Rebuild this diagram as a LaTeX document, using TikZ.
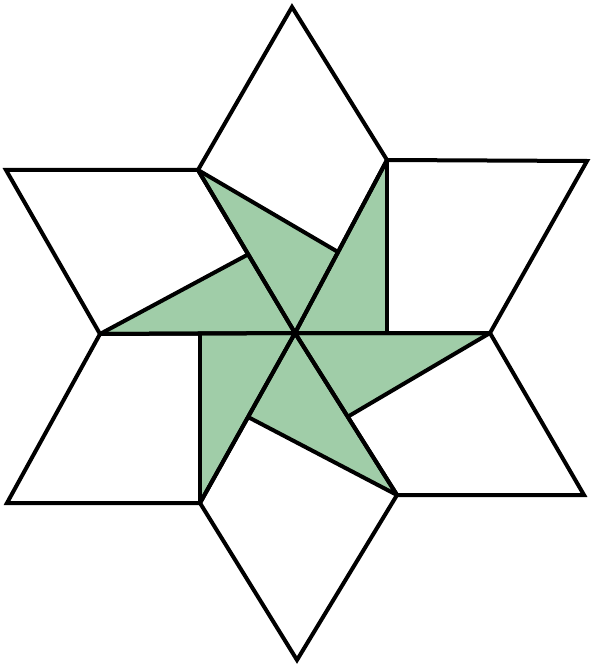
\documentclass[tikz,border=0pt]{standalone}
\usepackage[x11names]{xcolor}
\usepackage{tikz}
\definecolor{leafgreen}{RGB}{160,205,168}
\begin{document}
\begin{tikzpicture}[x=1pt,y=-1pt,line width=4pt]
      \useasboundingbox (0,0) rectangle (594,668);
      %Centre and inner points
      \coordinate (O) at (295,333);
      \coordinate (A) at (198,170);
      \coordinate (B) at (387,160);
      \coordinate (C) at (490,333);
      \coordinate (D) at (397,495);
      \coordinate (E) at (200,503);
      \coordinate (F) at (100,334);
      %Outer tips
      \coordinate (tA) at (292,7);
      \coordinate (tB) at (587,161);
      \coordinate (tC) at (584,495);
      \coordinate (tD) at (297,660);
      \coordinate (tE) at (7,503);
      \coordinate (tF) at (6,170);
      %Points on the spokes
      \coordinate (mB) at (338,252);
      \coordinate (mC) at (387,332);
      \coordinate (mD) at (349,416);
      \coordinate (mE) at (248,417);
      \coordinate (mF) at (200,335);
      \coordinate (mA) at (247,255);
      %Green triangles
      \foreach \p/\m in {A/mB, B/mC, C/mD, D/mE, E/mF, F/mA}
	\fill[leafgreen] (\p) -- (O) -- (\m) -- cycle;
      %Rhombi
      \foreach \p/\t/\q in {A/tA/B, B/tB/C, C/tC/D, D/tD/E, E/tE/F, F/tF/A}
	\draw (O) -- (\p) -- (\t) -- (\q) -- cycle;
      %Pinwheel lines
      \foreach \p/\m in {A/mB, B/mC, C/mD, D/mE, E/mF, F/mA}
	\draw (\p) -- (\m);
    \end{tikzpicture}
\end{document}
